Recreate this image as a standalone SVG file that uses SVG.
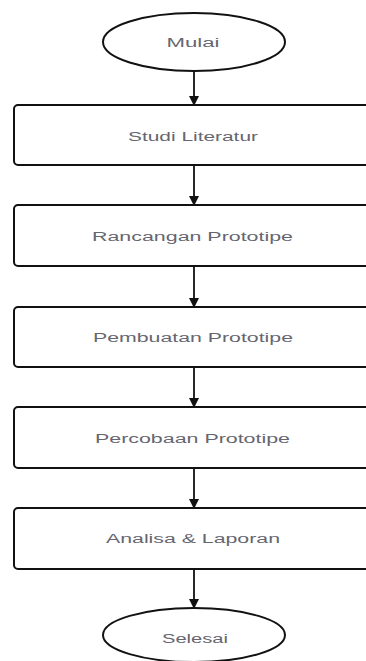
<svg xmlns="http://www.w3.org/2000/svg" width="366" height="661" viewBox="0 0 366 661">
<defs>
<style>
.shape{fill:#ffffff;stroke:#111111;stroke-width:2}
.lbl{font-family:"Liberation Sans",Arial,sans-serif;font-size:12px;fill:#666670;text-anchor:middle}
.conn{stroke:#111111;stroke-width:1.8;fill:none}
</style>
<marker id="arr" markerWidth="10" markerHeight="10" refX="9" refY="5" orient="auto" markerUnits="userSpaceOnUse">
<path d="M0,0 L10,5 L0,10 Z" fill="#111111"/>
</marker>
</defs>
<rect width="366" height="661" fill="#ffffff"/>
<g id="connectors">
<line class="conn" x1="194" y1="72" x2="194" y2="105" marker-end="url(#arr)"/>
<line class="conn" x1="194" y1="165" x2="194" y2="205" marker-end="url(#arr)"/>
<line class="conn" x1="194" y1="266" x2="194" y2="307" marker-end="url(#arr)"/>
<line class="conn" x1="194" y1="367" x2="194" y2="407" marker-end="url(#arr)"/>
<line class="conn" x1="194" y1="468" x2="194" y2="508" marker-end="url(#arr)"/>
<line class="conn" x1="194" y1="569" x2="194" y2="608" marker-end="url(#arr)"/>
</g>
<g id="mulai">
<ellipse class="shape" cx="194" cy="42" rx="91" ry="29"/>
<text class="lbl" x="193" y="47" textLength="53" lengthAdjust="spacingAndGlyphs">Mulai</text>
</g>
<g id="studi">
<rect class="shape" x="14" y="105" width="380" height="60" rx="4"/>
<text class="lbl" x="193" y="141" textLength="130" lengthAdjust="spacingAndGlyphs">Studi Literatur</text>
</g>
<g id="rancangan">
<rect class="shape" x="14" y="205" width="380" height="61" rx="4"/>
<text class="lbl" x="192.5" y="241" textLength="201" lengthAdjust="spacingAndGlyphs">Rancangan Prototipe</text>
</g>
<g id="pembuatan">
<rect class="shape" x="14" y="307" width="380" height="60" rx="4"/>
<text class="lbl" x="193" y="342" textLength="200" lengthAdjust="spacingAndGlyphs">Pembuatan Prototipe</text>
</g>
<g id="percobaan">
<rect class="shape" x="14" y="407" width="380" height="61" rx="4"/>
<text class="lbl" x="192.5" y="443" textLength="195" lengthAdjust="spacingAndGlyphs">Percobaan Prototipe</text>
</g>
<g id="analisa">
<rect class="shape" x="14" y="508" width="380" height="61" rx="4"/>
<text class="lbl" x="193" y="543" textLength="174" lengthAdjust="spacingAndGlyphs">Analisa &amp; Laporan</text>
</g>
<g id="selesai">
<ellipse class="shape" cx="194" cy="635" rx="91" ry="27"/>
<text class="lbl" x="195" y="643" textLength="66" lengthAdjust="spacingAndGlyphs">Selesai</text>
</g>
</svg>
